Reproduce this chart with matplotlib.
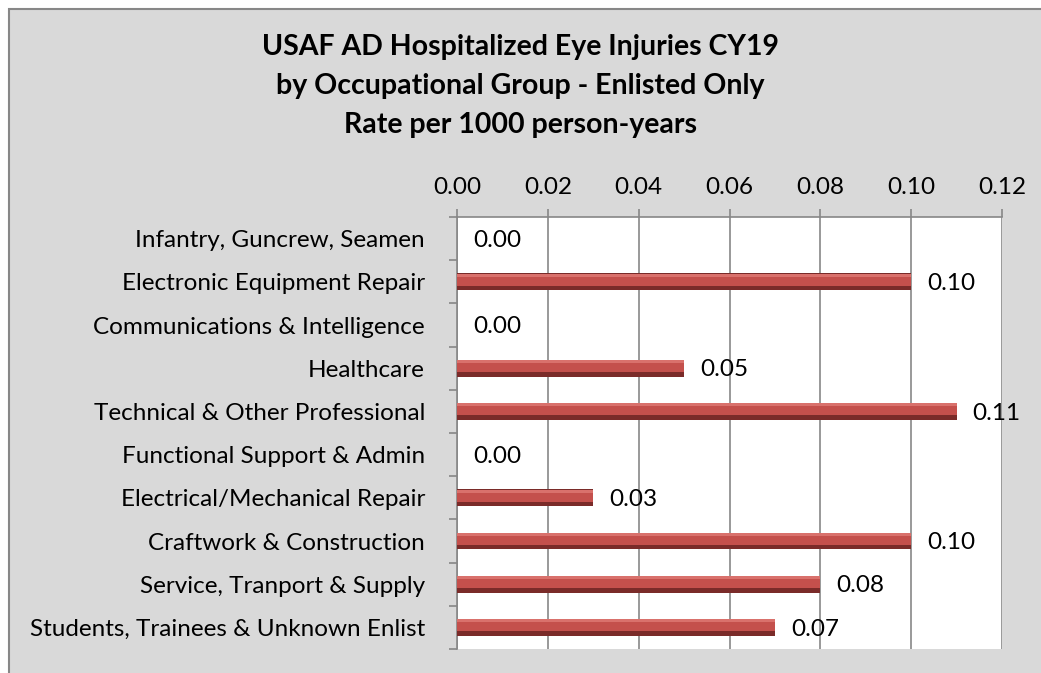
import matplotlib.pyplot as plt
import matplotlib.patches as patches
import numpy as np

plt.rcParams['font.family'] = ['Lato', 'DejaVu Sans']

# Data (rate per 1000 person-years)
groups = [
    'Infantry, Guncrew, Seamen',
    'Electronic Equipment Repair',
    'Communications & Intelligence',
    'Healthcare',
    'Technical & Other Professional',
    'Functional Support & Admin',
    'Electrical/Mechanical Repair',
    'Craftwork & Construction',
    'Service, Tranport & Supply',
    'Students, Trainees & Unknown Enlist',
]
rates = [0.0, 0.10, 0.0, 0.05, 0.11, 0.0, 0.03, 0.10, 0.08, 0.07]
xticks = [0.00, 0.02, 0.04, 0.06, 0.08, 0.10, 0.12]

fig = plt.figure(figsize=(10.41, 6.73), dpi=100)
fig.patch.set_facecolor('white')

# grey chart area with border
bg = patches.Rectangle((9 / 1041, -0.1), 1.1, 1.1 - 9 / 673, transform=fig.transFigure,
                       facecolor='#D9D9D9', edgecolor='#878787', linewidth=1.5, zorder=-10)
fig.patches.append(bg)

ax = fig.add_axes([457 / 1041, 1 - 649 / 673, (1002 - 457) / 1041, (649 - 217) / 673])
ax.set_facecolor('white')

y = np.arange(len(groups))
h = 0.39

# bevelled bars: dark base, mid band, light top edge
ax.barh(y, rates, height=h, color='#7A2B29', zorder=3)
ax.barh(y - h * 0.12, rates, height=h * 0.72, color='#C4504C', zorder=4)
ax.barh(y - h * 0.40, rates, height=h * 0.18, color='#D9716C', zorder=5)

for yi, v in zip(y, rates):
    ax.text(v + 0.0035, yi + 0.04, f'{v:.2f}', va='center', ha='left', fontsize=17.5, zorder=6)

ax.set_xlim(0, 0.12)
ax.set_ylim(len(groups) - 0.5, -0.5)
ax.xaxis.tick_top()
ax.set_xticks(xticks)
ax.set_xticklabels([f'{t:.2f}' for t in xticks], fontsize=17.5)
ax.tick_params(axis='x', direction='out', length=6, width=1.2, color='#878787', pad=8)
ax.grid(axis='x', color='#878787', linewidth=1.2, zorder=1)

ax.set_yticks(y)
ax.set_yticklabels(groups, fontsize=17.5)
ax.set_yticks(np.arange(len(groups) + 1) - 0.5, minor=True)
ax.tick_params(axis='y', which='major', length=0, pad=23)
ax.tick_params(axis='y', which='minor', direction='out', length=6, width=1.2, color='#878787')

for side in ['bottom', 'right']:
    ax.spines[side].set_visible(False)
for side in ['top', 'left']:
    ax.spines[side].set_color('#878787')
    ax.spines[side].set_linewidth(1.2)

fig.text(520 / 1041, 1 - 86 / 673,
         'USAF AD Hospitalized Eye Injuries CY19\nby Occupational Group - Enlisted Only\nRate per 1000 person-years',
         ha='center', va='center', fontsize=20.5, fontweight='bold', linespacing=1.6)

fig.savefig('out.png', dpi=100)
